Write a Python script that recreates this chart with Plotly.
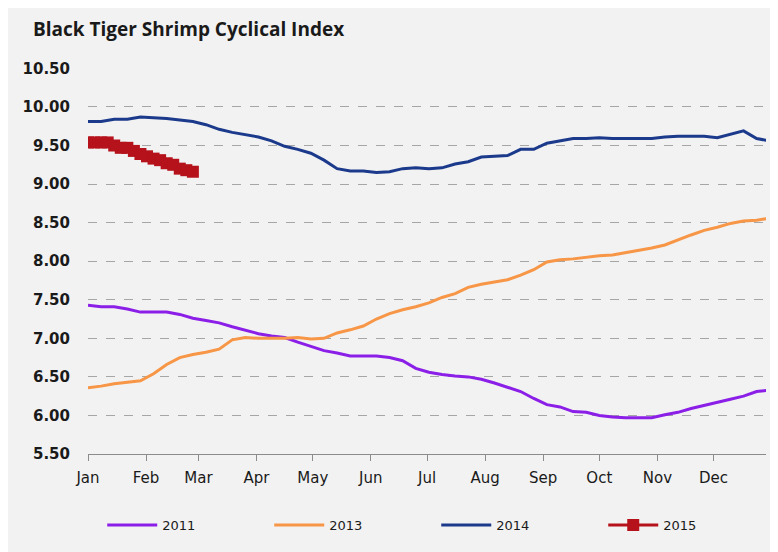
import pandas as pd
import plotly.graph_objects as go

# Weekly points across a calendar year (seasonal comparison)
weeks = pd.date_range("2014-01-01", periods=53, freq="7D")
# 2015 year-to-date readings (twice weekly)
days_2015 = pd.date_range("2014-01-01", periods=17, freq="84h")

y2011 = [7.43, 7.41, 7.41, 7.38, 7.34, 7.34, 7.34, 7.31, 7.26, 7.23,
         7.20, 7.15, 7.10, 7.06, 7.03, 7.01, 6.95, 6.89, 6.84, 6.81,
         6.77, 6.77, 6.77, 6.75, 6.71, 6.61, 6.56, 6.53, 6.51, 6.50,
         6.47, 6.42, 6.36, 6.31, 6.22, 6.14, 6.11, 6.05, 6.04, 6.00,
         5.98, 5.97, 5.97, 5.97, 6.01, 6.04, 6.09, 6.13, 6.18, 6.21,
         6.25, 6.31, 6.33]

y2013 = [6.36, 6.38, 6.41, 6.43, 6.45, 6.54, 6.66, 6.75, 6.79, 6.82,
         6.86, 6.98, 7.01, 7.00, 7.00, 7.00, 7.01, 6.99, 7.00, 7.07,
         7.11, 7.16, 7.25, 7.32, 7.37, 7.41, 7.46, 7.53, 7.58, 7.66,
         7.70, 7.73, 7.76, 7.82, 7.89, 7.99, 8.02, 8.03, 8.05, 8.07,
         8.08, 8.11, 8.14, 8.17, 8.21, 8.28, 8.34, 8.40, 8.44, 8.49,
         8.52, 8.53, 8.56]

y2014 = [9.81, 9.81, 9.84, 9.84, 9.87, 9.86, 9.85, 9.83, 9.81, 9.77,
         9.71, 9.67, 9.64, 9.61, 9.56, 9.49, 9.45, 9.40, 9.31, 9.20,
         9.17, 9.17, 9.15, 9.16, 9.20, 9.21, 9.20, 9.21, 9.26, 9.29,
         9.35, 9.36, 9.37, 9.45, 9.45, 9.53, 9.56, 9.59, 9.59, 9.60,
         9.59, 9.59, 9.59, 9.59, 9.61, 9.62, 9.62, 9.62, 9.60, 9.64,
         9.69, 9.59, 9.56]

y2015 = [9.54, 9.54, 9.54, 9.54, 9.50, 9.47, 9.47, 9.43, 9.39, 9.36,
         9.33, 9.31, 9.27, 9.25, 9.20, 9.18, 9.16]

colors = ["#8B1FE8", "#F79646", "#1C3A8C", "#B5121B"]

fig = go.Figure()
fig.add_trace(go.Scatter(x=weeks, y=y2011, name="2011", mode="lines",
                         line=dict(color=colors[0], width=3)))
fig.add_trace(go.Scatter(x=weeks, y=y2013, name="2013", mode="lines",
                         line=dict(color=colors[1], width=3)))
fig.add_trace(go.Scatter(x=weeks, y=y2014, name="2014", mode="lines",
                         line=dict(color=colors[2], width=3)))
fig.add_trace(go.Scatter(x=days_2015, y=y2015, name="2015", mode="lines+markers",
                         line=dict(color=colors[3], width=3),
                         marker=dict(symbol="square", size=12, color=colors[3])))

fig.update_layout(
    width=770, height=544,
    paper_bgcolor="#f2f2f2", plot_bgcolor="#f2f2f2",
    margin=dict(l=80, r=12, t=60, b=98, autoexpand=False),
    title=dict(text="<b>Black Tiger Shrimp Cyclical Index</b>", x=0.0325, xanchor="left",
               y=0.96, yanchor="middle",
               font=dict(family="Open Sans", size=19, color="#1a1a1a")),
    font=dict(family="DejaVu Sans", color="#1a1a1a"),
    showlegend=True,
    legend=dict(orientation="h", x=0.021, xanchor="left", y=-0.184, yanchor="middle",
                entrywidth=102, entrywidthmode="pixels", itemwidth=50,
                font=dict(family="DejaVu Sans", size=13, color="#1a1a1a"),
                bgcolor="rgba(0,0,0,0)"),
)

fig.update_yaxes(
    range=[5.5, 10.505], dtick=0.5, tick0=5.5, tickformat=".2f",
    showgrid=True, gridcolor="#a6a6a6", griddash="dash", gridwidth=1,
    zeroline=False, showline=False, ticks="", automargin=False,
    tickfont=dict(family="DejaVu Sans", size=15, color="#1a1a1a", weight="bold"),
    ticklabelstandoff=17,
)

fig.update_xaxes(
    type="date", range=["2014-01-01", "2014-12-29"],
    dtick="M1", tick0="2014-01-01", tickformat="%b",
    showgrid=False, zeroline=False, automargin=False,
    showline=True, linecolor="#8c8c8c", linewidth=1,
    ticks="outside", ticklen=6, tickcolor="#8c8c8c",
    tickfont=dict(family="DejaVu Sans", size=15, color="#1a1a1a"),
    ticklabelstandoff=4,
)

fig.write_html("out.html")
